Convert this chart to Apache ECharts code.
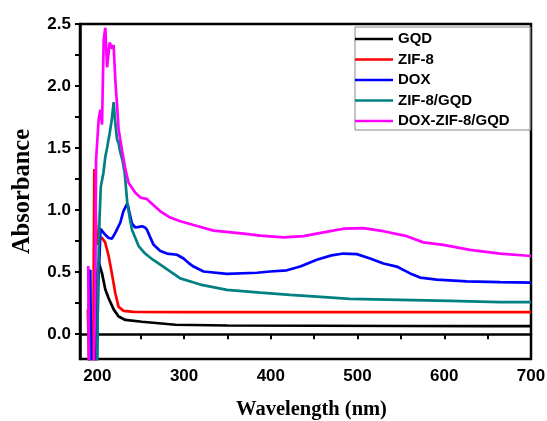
<!DOCTYPE html>
<html>
<head>
<meta charset="utf-8">
<script src="https://cdn.jsdelivr.net/npm/echarts@6/dist/echarts.min.js"></script>
<style>
  html, body { margin: 0; padding: 0; background: #fff; }
  #chart { width: 547px; height: 421px; }
</style>
</head>
<body>
<div id="chart"></div>
<script>
// UV-Vis absorbance spectra, [wavelength (nm), absorbance]
const gqd = [
  [189.5, 0.06], [190.5, 0.1], [191.5, -0.5], [196.5, -0.5], [199, 0.45], [201.5, 0.58],
  [205.4, 0.49], [209.2, 0.36], [213, 0.29], [218.8, 0.2], [224.5, 0.142], [232.3, 0.115],
  [251.5, 0.1], [290, 0.076], [350, 0.07], [450, 0.068], [550, 0.066], [650, 0.065], [700, 0.065]
];
const zif8 = [
  [189, 0.2], [190.5, 0.2], [191.5, -0.5], [195, -0.5], [196.5, 1.33], [198.5, 0.9],
  [200, 0.72], [202, 0.76], [205, 0.78], [209, 0.74], [213, 0.63], [217, 0.48],
  [220.7, 0.33], [224.5, 0.22], [230.3, 0.188], [241.8, 0.18], [300, 0.178], [400, 0.178],
  [500, 0.177], [600, 0.177], [700, 0.177]
];
const dox = [
  [190, 0.4], [191.9, 0.52], [193, -0.5], [198.5, -0.5], [201, 0.4], [202.6, 0.65],
  [203.6, 0.85], [205.4, 0.84], [208, 0.81], [213, 0.775], [216.9, 0.77], [221, 0.82],
  [226.5, 0.9], [230, 0.99], [234.6, 1.055], [237, 0.98], [240, 0.89], [243.8, 0.86],
  [248, 0.865], [251.5, 0.87], [255, 0.86], [257.3, 0.84], [261, 0.78], [264.9, 0.72],
  [272.6, 0.67], [280.3, 0.65], [291.8, 0.64], [299.4, 0.61], [305, 0.575], [310.9, 0.545],
  [322.5, 0.505], [349.4, 0.486], [384, 0.495], [399.3, 0.505], [418.5, 0.515], [434, 0.545],
  [453, 0.6], [470, 0.635], [483.8, 0.65], [499.2, 0.645], [514.5, 0.61], [529.8, 0.57],
  [545.2, 0.545], [560.6, 0.49], [572.1, 0.456], [591.4, 0.44], [625.9, 0.425],
  [664.2, 0.42], [700, 0.416]
];
const zif8Gqd = [
  [190, 0.25], [191, -0.5], [199.5, -0.5], [201, 0.5], [202.6, 0.95], [204, 1.19],
  [207, 1.3], [209.2, 1.43], [211.2, 1.5], [214.2, 1.62], [216.7, 1.73], [218.8, 1.87],
  [220.7, 1.7], [222.7, 1.57], [224.5, 1.54], [226, 1.48], [229, 1.4], [231.5, 1.3],
  [234.5, 1.06], [237.5, 0.93], [240, 0.84], [247.6, 0.71], [255, 0.65], [264, 0.6],
  [272.6, 0.56], [295.6, 0.45], [318.7, 0.4], [349.4, 0.357], [387.8, 0.335],
  [422.4, 0.317], [453, 0.303], [491, 0.285], [549, 0.277], [607, 0.269], [664, 0.258],
  [700, 0.258]
];
const doxZif8Gqd = [
  [189.5, 0.55], [190.5, -0.5], [195.5, -0.5], [197.7, 0.4], [198.5, 1.4], [201.5, 1.73],
  [203.5, 1.81], [205.4, 1.69], [207.3, 2.37], [209.2, 2.47], [211.2, 2.15], [214.2, 2.35],
  [217, 2.3], [218.8, 2.33], [220.7, 2.05], [222.7, 1.85], [224.5, 1.65], [228.5, 1.48],
  [232.3, 1.33], [236, 1.22], [243.8, 1.14], [250, 1.1], [257, 1.09], [264.9, 1.04],
  [272.6, 0.99], [284, 0.94], [295.6, 0.91], [310.9, 0.88], [334, 0.835], [368.6, 0.81],
  [387.8, 0.795], [414.6, 0.78], [437.7, 0.79], [460.7, 0.82], [483.8, 0.85],
  [506.8, 0.855], [529.8, 0.83], [556.8, 0.79], [575.9, 0.74], [598.9, 0.72],
  [629.7, 0.68], [664.2, 0.65], [700, 0.63]
];

const seriesNames = ['GQD', 'ZIF-8', 'DOX', 'ZIF-8/GQD', 'DOX-ZIF-8/GQD'];
const seriesData = [gqd, zif8, dox, zif8Gqd, doxZif8Gqd];
const seriesColors = ['#000000', '#ff0000', '#0000ff', '#008080', '#ff00ff'];

const xLabels = [200, 300, 400, 500, 600, 700];
const xTicks = [200, 250, 300, 350, 400, 450, 500, 550, 600, 650, 700];
const yLabels = [0, 0.5, 1.0, 1.5, 2.0, 2.5];
const yTicks = [0, 0.25, 0.5, 0.75, 1.0, 1.25, 1.5, 1.75, 2.0, 2.25, 2.5];

const labelFont = { fontFamily: 'Liberation Sans, Arial, sans-serif', fontWeight: 'bold', fontSize: 17, color: '#000' };
const nameFont = { fontFamily: 'Liberation Serif, Times New Roman, serif', fontWeight: 'bold', fontSize: 20.5, color: '#000' };

const chart = echarts.init(document.getElementById('chart'), null, { renderer: 'canvas' });
chart.setOption({
  animation: false,
  backgroundColor: '#fff',
  grid: {
    left: 80, right: 16, top: 24, bottom: 62,
    outerBoundsMode: 'none',
    show: true, borderColor: '#000', borderWidth: 2.5, backgroundColor: 'transparent'
  },
  legend: {
    orient: 'vertical',
    left: 355, top: 27,
    icon: 'rect',
    itemWidth: 38, itemHeight: 2.5, itemGap: 4.5,
    padding: [4, 21, 1, 0],
    borderColor: '#888', borderWidth: 1,
    textStyle: { fontFamily: 'Liberation Sans, Arial, sans-serif', fontWeight: 'bold', fontSize: 15, color: '#000', lineHeight: 16 },
    data: seriesNames
  },
  xAxis: {
    type: 'value', min: 180, max: 700,
    name: 'Wavelength (nm)', nameLocation: 'middle', nameGap: 40,
    nameTextStyle: { ...nameFont, padding: [0, 0, 0, 12] },
    axisLine: { lineStyle: { color: '#000', width: 2.5 } },
    axisTick: { show: true, inside: false, length: 5, lineStyle: { color: '#000', width: 2 }, customValues: xTicks },
    axisLabel: { ...labelFont, margin: 9, customValues: xLabels, formatter: v => String(v) },
    splitLine: { show: false }
  },
  yAxis: {
    type: 'value', min: -0.2, max: 2.5,
    name: 'Absorbance', nameLocation: 'middle', nameGap: 45,
    nameTextStyle: { ...nameFont, fontSize: 24.5 },
    axisLine: { show: true, lineStyle: { color: '#000', width: 2.5 } },
    axisTick: { show: true, inside: false, length: 5, lineStyle: { color: '#000', width: 2 }, customValues: yTicks },
    axisLabel: { ...labelFont, margin: 9, customValues: yLabels, formatter: v => v.toFixed(1) },
    splitLine: { show: false }
  },
  series: seriesNames.map((name, i) => ({
    name,
    type: 'line',
    data: seriesData[i],
    symbol: 'none',
    clip: true,
    lineStyle: { color: seriesColors[i], width: 2.7 },
    itemStyle: { color: seriesColors[i] }
  }))
});
</script>
</body>
</html>
